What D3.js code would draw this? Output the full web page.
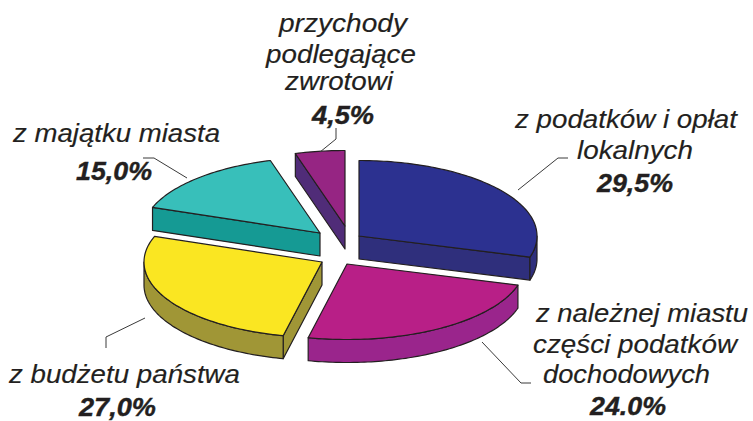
<!DOCTYPE html>
<html lang="pl">
<head>
<meta charset="utf-8">
<script src="https://cdn.jsdelivr.net/npm/d3@7"></script>
<style>
  html, body { margin: 0; background: #fff; }
  text { font-family: "Liberation Sans", sans-serif; font-style: italic; fill: #231f20; stroke: #231f20; }
</style>
</head>
<body>
<div id="chart"></div>
<script>
// chart data, in pie order (clockwise from 12 o'clock)
const categories = [
  ["z podatków i opłat", "lokalnych"],
  ["z należnej miastu", "części podatków", "dochodowych"],
  ["z budżetu państwa"],
  ["z majątku miasta"],
  ["przychody", "podlegające", "zwrotowi"]
];
const shares = [29.5, 24, 27, 15, 4.5];
const shareLabels = ["29,5%", "24.0%", "27,0%", "15,0%", "4,5%"];

// look
const topColors = ["#2c3190", "#b81f87", "#fae622", "#38bfba", "#962583"];
const sideColors = ["#2f2f7c", "#9a258c", "#a09636", "#159a94", "#502c78"];

const width = 753, height = 421;
const rx = 178, ry = 75.5, depth = 23;
const centerX = 340, centerY = 248;

// each slice was pulled out by hand in the original
const explode = [[19, -12], [7, 16], [-18, 14], [-20, -15], [5, -22]];

// [x, baseline] of every text line, label lines first and then the share
const labelPlaces = [
  [[515, 128], [577, 159], [597, 192]],
  [[536, 322], [533, 353], [543, 383], [590, 415]],
  [[9, 383], [79, 416]],
  [[13, 142], [76, 180]],
  [[279, 32], [266, 63], [285, 90], [312, 124]]
];
const labelWidths = [
  [222, 116, 76],
  [212, 204, 167, 76],
  [231, 77],
  [207, 76],
  [128, 150, 108, 62]
];
const leaders = [
  [[518, 190], [558, 158], [568, 158]],
  [[482, 342], [521, 383], [531, 383]],
  [[145, 318], [106, 337], [106, 348]],
  [[187, 178], [154, 158], [143, 158]],
  [[320, 152], [336, 139], [336, 128]]
];

const svg = d3.select("#chart")
  .append("svg")
  .attr("width", width)
  .attr("height", height)
  .style("display", "block");

const pie = d3.pie().sort(null).value(d => d);
const slices = pie(shares);

const line = d3.line();

function rim(angle) {
  return [rx * Math.sin(angle), -ry * Math.cos(angle)];
}

function arcPoints(a0, a1) {
  const steps = Math.max(2, Math.ceil((a1 - a0) / 0.02));
  return d3.range(steps + 1).map(i => rim(a0 + (a1 - a0) * i / steps));
}

function wall(g, a, fill) {
  const p = rim(a);
  g.append("path")
    .attr("fill", fill)
    .attr("d", line([[0, 0], p, [p[0], p[1] + depth], [0, depth]]) + "Z");
}

const drawOrder = [4, 0, 3, 2, 1];

const groups = svg.selectAll("g.slice")
  .data(drawOrder)
  .enter()
  .append("g")
  .attr("class", "slice")
  .attr("transform", i => `translate(${centerX + explode[i][0]},${centerY + explode[i][1]})`)
  .attr("stroke", "#231f20")
  .attr("stroke-width", 1.2)
  .attr("stroke-linejoin", "round");

groups.each(function (i) {
  const g = d3.select(this);
  const s = slices[i];
  const side = sideColors[i];

  // a cut wall only shows when the slice lies above its edge
  if (Math.sin(s.startAngle) < -0.001) wall(g, s.startAngle, side);
  if (Math.sin(s.endAngle) > 0.001) wall(g, s.endAngle, side);

  // outer wall, only the front half of the rim can be seen
  const a0 = Math.max(s.startAngle, Math.PI / 2);
  const a1 = Math.min(s.endAngle, Math.PI * 1.5);
  if (a1 > a0) {
    const upper = arcPoints(a0, a1);
    const lower = upper.map(p => [p[0], p[1] + depth]).reverse();
    g.append("path")
      .attr("fill", side)
      .attr("d", line(upper.concat(lower)) + "Z");
  }

  g.append("path")
    .attr("fill", topColors[i])
    .attr("d", line([[0, 0]].concat(arcPoints(s.startAngle, s.endAngle))) + "Z");
});

svg.selectAll("path.leader")
  .data(leaders)
  .enter()
  .append("path")
  .attr("class", "leader")
  .attr("fill", "none")
  .attr("stroke", "#3a3a3a")
  .attr("stroke-width", 1)
  .attr("d", d => line(d));

categories.forEach((lines, i) => {
  const rows = lines.concat(shareLabels[i]);
  rows.forEach((row, r) => {
    const isShare = r === rows.length - 1;
    svg.append("text")
      .attr("x", labelPlaces[i][r][0])
      .attr("y", labelPlaces[i][r][1])
      .attr("font-size", isShare ? 26 : 25)
      .attr("font-weight", isShare ? "bold" : "normal")
      .attr("stroke-width", isShare ? 0.4 : 0.15)
      .attr("textLength", labelWidths[i][r])
      .attr("lengthAdjust", "spacingAndGlyphs")
      .text(row);
  });
});
</script>
</body>
</html>
